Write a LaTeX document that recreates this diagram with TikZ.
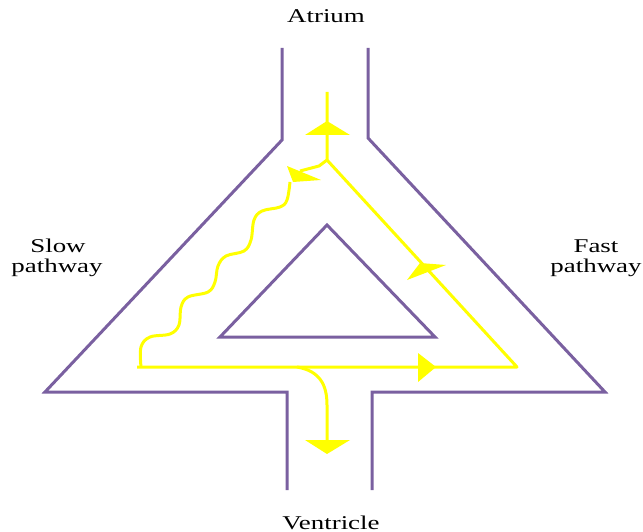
\documentclass[tikz,border=0pt]{standalone}
\usepackage{fontspec}
\setmainfont{Liberation Serif}
\definecolor{wall}{RGB}{122,96,160}
\definecolor{path}{RGB}{255,255,0}
\begin{document}
\begin{tikzpicture}[x=1pt,y=-1pt,
  wallline/.style={draw=wall,line width=3pt,line join=miter},
  impulse/.style={draw=path,line width=3pt,line join=round},
  head/.style={fill=path},
  lbl/.style={anchor=base,inner sep=0pt,font=\fontsize{19.5}{20}\selectfont}]
\useasboundingbox (0,0) rectangle (643,532);
% walls
\draw[wallline] (282,48) -- (282,140) -- (45,392) -- (287,392) -- (287,490);
\draw[wallline] (368,48) -- (368,138) -- (605,392) -- (372,392) -- (372,490);
\draw[wallline] (327,225) -- (220,337) -- (435,337) -- cycle;
% impulse paths
\draw[impulse] (327,92) -- (327,160) -- (517,367) -- (137,367);
\draw[impulse] (327,160) -- (319,166) -- (300,171);
\draw[impulse] plot[smooth,tension=0.6] coordinates {(141,367) (141,347) (150,337) (170,334) (179,325) (181,307) (188,297) (208,292) (215,282) (218,266) (226,256) (244,251) (251,240) (254,220) (262,211) (280,207) (287,200) (290,182)};
\draw[impulse] (297,367) .. controls (320,371) and (327,385) .. (327,405) -- (327,445);
% arrowheads
\fill[head] (327,121) -- (350,135) -- (305,135) -- cycle;
\fill[head] (287,166) -- (321,180) -- (293,182) -- cycle;
\fill[head] (420,263) -- (446,265) -- (407,280) -- cycle;
\fill[head] (436,367) -- (418,353) -- (418,382) -- cycle;
\fill[head] (327,454) -- (305,440) -- (350,440) -- cycle;
% labels
\node[lbl] (atrium) at (326,23) {\scalebox{1.38}[1]{Atrium}};
\node[lbl] (slow1) at (58,252) {\scalebox{1.38}[1]{Slow}};
\node[lbl] (slow2) at (57,272) {\scalebox{1.38}[1]{pathway}};
\node[lbl] (fast1) at (596,252) {\scalebox{1.38}[1]{Fast}};
\node[lbl] (fast2) at (596,272) {\scalebox{1.38}[1]{pathway}};
\node[lbl] (ventricle) at (331,529) {\scalebox{1.38}[1]{Ventricle}};
\end{tikzpicture}
\end{document}
